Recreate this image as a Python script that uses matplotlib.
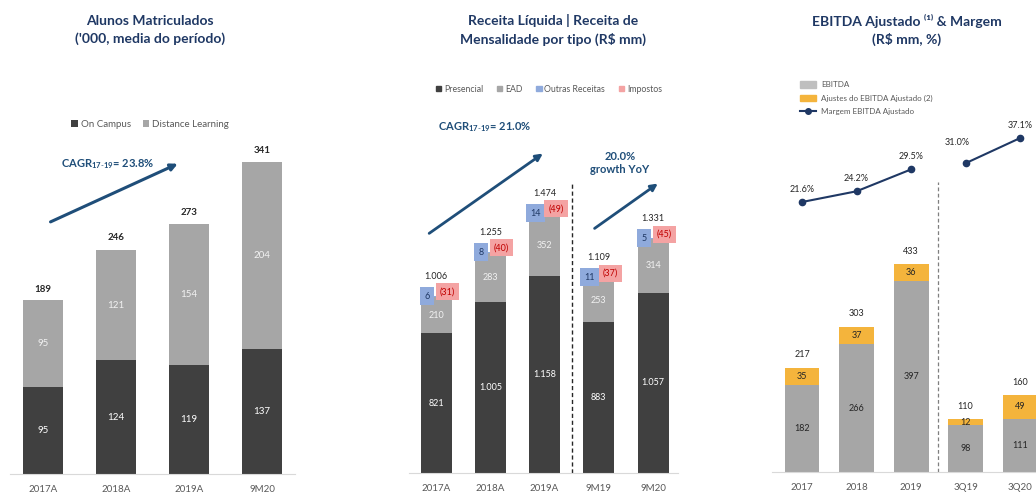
import matplotlib.pyplot as plt
from matplotlib.patches import Patch
from matplotlib.lines import Line2D

plt.rcParams['font.family'] = ['Lato', 'DejaVu Sans']
plt.rcParams['mathtext.fontset'] = 'custom'
plt.rcParams['mathtext.rm'] = 'Lato'
plt.rcParams['mathtext.bf'] = 'Lato:bold'

# data: enrolled students ('000)
years_1 = ['2017A', '2018A', '2019A', '9M20']
on_campus = [95, 124, 119, 137]
distance = [95, 121, 154, 204]
total_1 = [189, 246, 273, 341]

# data: net revenue (R$ mm)
periods_2 = ['2017A', '2018A', '2019A', '9M19', '9M20']
presencial = [821, 1005, 1158, 883, 1057]
ead = [210, 283, 352, 253, 314]
outras = [6, 8, 14, 11, 5]
impostos = [-31, -40, -49, -37, -45]
total_2 = [1006, 1255, 1474, 1109, 1331]

# data: adjusted EBITDA (R$ mm) and margin (%)
periods_3 = ['2017', '2018', '2019', '3Q19', '3Q20']
ebitda = [182, 266, 397, 98, 111]
ajustes = [35, 37, 36, 12, 49]
total_3 = [217, 303, 433, 110, 160]
margem = [21.6, 24.2, 29.5, 31.0, 37.1]

DARK = '#404040'
GRAY = '#a6a6a6'
NAVY = '#1f3864'
ARROW = '#1f4e79'
BLUE = '#8faadc'
RED = '#f4a3a3'
ORANGE = '#f4b43c'
TXT = '#595959'

W, H = 1036, 495
fig = plt.figure(figsize=(W / 100, H / 100), dpi=100)


def px_axes(left, top, right, bottom):
    return fig.add_axes([left / W, 1 - bottom / H, (right - left) / W, (bottom - top) / H])


def pt_br(n):
    # 1006 -> 1.006
    return f'{n:,}'.replace(',', '.')


def style(ax, labels):
    for s in ['top', 'right', 'left']:
        ax.spines[s].set_visible(False)
    ax.spines['bottom'].set_color('#d9d9d9')
    ax.set_yticks([])
    ax.set_xticks(range(len(labels)))
    ax.set_xticklabels(labels, fontsize=7, color=TXT)
    ax.tick_params(axis='x', length=0, pad=8)


def title(x, s):
    fig.text(x / W, 1 - 30 / H, s, ha='center', va='center', fontsize=10,
             fontweight='bold', color=NAVY, linespacing=1.5)


# ---------- panel 1 ----------
ax1 = px_axes(10, 60, 295, 474)
x1 = range(len(years_1))
ax1.bar(x1, on_campus, width=0.55, color=DARK, label='On Campus')
ax1.bar(x1, distance, width=0.55, bottom=on_campus, color=GRAY, label='Distance Learning')
for i in x1:
    ax1.text(i, on_campus[i] / 2, str(on_campus[i]), ha='center', va='center', color='white', fontsize=7)
    ax1.text(i, on_campus[i] + distance[i] / 2, str(distance[i]), ha='center', va='center',
             color='#f2f2f2', fontsize=7)
    ax1.annotate(str(total_1[i]), (i, total_1[i]), xytext=(0, 5), textcoords='offset points',
                 ha='center', va='bottom', fontsize=7, fontweight='bold', color='#262626')
ax1.set_xlim(-0.45, 3.45)
ax1.set_ylim(0, 452)
style(ax1, years_1)
ax1.legend(loc='center', bbox_to_anchor=(150 / W, 1 - 124 / H), bbox_transform=fig.transFigure,
           ncol=2, frameon=False, fontsize=7, labelcolor=TXT, handlelength=0.7, handleheight=0.7,
           handletextpad=0.3, columnspacing=1.2)
ax1.annotate('', xy=(1.88, 340), xytext=(0.07, 274),
             arrowprops=dict(arrowstyle='-|>', color=ARROW, lw=2.2, mutation_scale=10))
ax1.text(0.89, 338, r'CAGR$_{\mathbf{17\text{-}19}}$= 23.8%', ha='center', va='center',
         fontsize=8, fontweight='bold', color=ARROW)
title(150, "Alunos Matriculados\n('000, media do período)")

# ---------- panel 2 ----------
ax2 = px_axes(409, 60, 678, 473)
x2 = range(len(periods_2))
bot_ead = presencial
bot_out = [p + e for p, e in zip(presencial, ead)]
ax2.bar(x2, presencial, width=0.57, color=DARK, label='Presencial')
ax2.bar(x2, ead, width=0.57, bottom=bot_ead, color=GRAY, label='EAD')
ax2.bar(x2, outras, width=0.57, bottom=bot_out, color=BLUE, label='Outras Receitas')
for i in x2:
    top = bot_out[i] + outras[i]
    ax2.text(i, presencial[i] / 2, pt_br(presencial[i]), ha='center', va='center', color='white', fontsize=6.5)
    ax2.text(i, presencial[i] + ead[i] / 2, str(ead[i]), ha='center', va='center', color='#f2f2f2', fontsize=6.5)
    ax2.text(i - 0.17, top, str(outras[i]), ha='center', va='center', color=NAVY, fontsize=6.5,
             bbox=dict(boxstyle='square,pad=0.5', fc=BLUE, ec='none'))
    ax2.text(i + 0.21, top + 25, f'({-impostos[i]})', ha='center', va='center', color='#c00000', fontsize=6.5,
             bbox=dict(boxstyle='square,pad=0.45', fc=RED, ec='none'))
    ax2.text(i, top + 115, pt_br(total_2[i]), ha='center', va='center', color='#262626', fontsize=6.5)
ax2.set_xlim(-0.5, 4.46)
ax2.set_ylim(0, 2422)
style(ax2, periods_2)
ax2.plot([2.51, 2.51], [0, 1700], ls=(0, (3, 2)), color='#262626', lw=1)
handles2 = [Patch(color=DARK), Patch(color=GRAY), Patch(color=BLUE), Patch(color=RED)]
ax2.legend(handles2, ['Presencial', 'EAD', 'Outras Receitas', 'Impostos'], loc='center',
           bbox_to_anchor=(549 / W, 1 - 89 / H), bbox_transform=fig.transFigure, ncol=4,
           frameon=False, fontsize=6.3, labelcolor=TXT, handlelength=0.6, handleheight=0.6,
           handletextpad=0.3, columnspacing=1.6)
ax2.annotate('', xy=(2.01, 1883), xytext=(-0.17, 1396),
             arrowprops=dict(arrowstyle='-|>', color=ARROW, lw=2.0, mutation_scale=10))
ax2.text(0.9, 2029, r'CAGR$_{\mathbf{17\text{-}19}}$= 21.0%', ha='center', va='center',
         fontsize=8, fontweight='bold', color=ARROW)
ax2.annotate('', xy=(4.13, 1707), xytext=(2.88, 1425),
             arrowprops=dict(arrowstyle='-|>', color=ARROW, lw=2.0, mutation_scale=10))
ax2.text(3.39, 1818, '20.0%\ngrowth YoY', ha='center', va='center', fontsize=8,
         fontweight='bold', color=ARROW, linespacing=1.3)
title(553, 'Receita Líquida | Receita de\nMensalidade por tipo (R$ mm)')

# ---------- panel 3 ----------
ax3 = px_axes(772, 60, 1036, 472)
x3 = range(len(periods_3))
ax3.bar(x3, ebitda, width=0.64, color=GRAY, label='EBITDA')
ax3.bar(x3, ajustes, width=0.64, bottom=ebitda, color=ORANGE, label='Ajustes do EBITDA Ajustado (2)')
for i in x3:
    ax3.text(i, ebitda[i] / 2, str(ebitda[i]), ha='center', va='center', color='#262626', fontsize=6.5)
    ax3.text(i, ebitda[i] + ajustes[i] / 2, str(ajustes[i]), ha='center', va='center',
             color='#262626', fontsize=6.5)
    ax3.annotate(str(total_3[i]), (i, total_3[i]), xytext=(0, 6), textcoords='offset points',
                 ha='center', va='bottom', fontsize=6.5, color='#262626')
ax3.set_xlim(-0.55, 4.29)
ax3.set_ylim(0, 858)
style(ax3, periods_3)
ax3.plot([2.5, 2.5], [0, 604], ls=(0, (3, 2)), color='#7f7f7f', lw=0.9)

ax3b = ax3.twinx()
ax3b.set_ylim(-43.8, 56.0)
ax3b.axis('off')
ax3b.plot([0, 1, 2], margem[:3], color=NAVY, marker='o', ms=4.5, lw=1.5)
ax3b.plot([3, 4], margem[3:], color=NAVY, marker='o', ms=4.5, lw=1.5)
for i, m in enumerate(margem):
    dx = -6 if i == 3 else 0
    dy = 12 if i == 3 else 6
    ax3b.annotate(f'{m:.1f}%', (i, m), xytext=(dx, dy), textcoords='offset points',
                  ha='center', va='bottom', fontsize=6.5, color='#262626')
handles3 = [Patch(color='#bfbfbf'), Patch(color=ORANGE),
            Line2D([0], [0], color=NAVY, marker='o', ms=4, lw=1.5)]
ax3.legend(handles3, ['EBITDA', 'Ajustes do EBITDA Ajustado (2)', 'Margem EBITDA Ajustado'],
           loc='upper left', bbox_to_anchor=(793 / W, 1 - 74 / H), bbox_transform=fig.transFigure,
           frameon=False, fontsize=5.8, labelcolor=TXT, handlelength=2.0, handleheight=0.8,
           labelspacing=0.8, handletextpad=0.6)
title(907, 'EBITDA Ajustado ⁽¹⁾ & Margem\n(R$ mm, %)')

fig.savefig('out.png', dpi=100)
